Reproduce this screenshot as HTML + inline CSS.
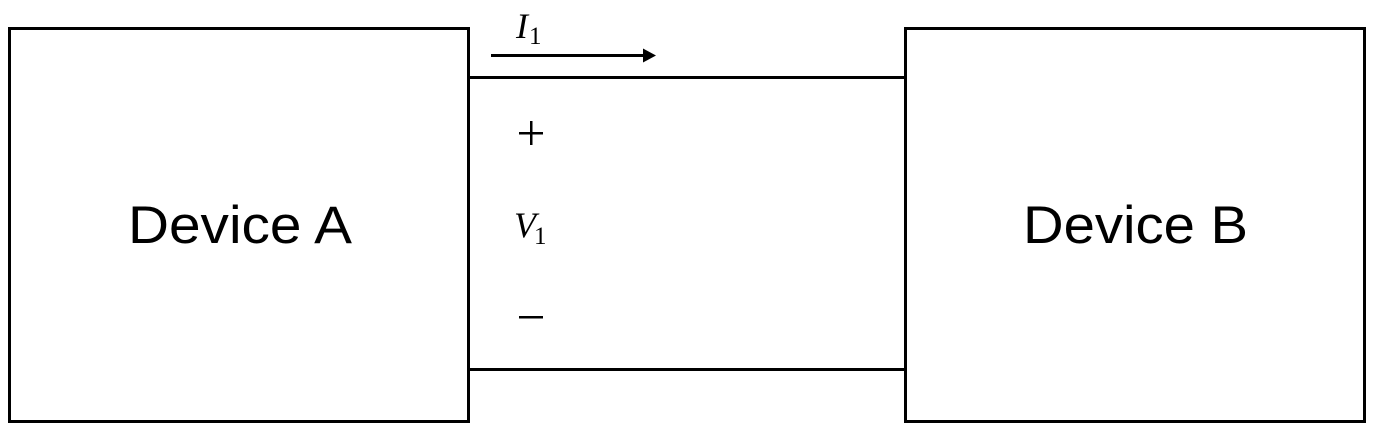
<!DOCTYPE html>
<html>
<head>
<meta charset="utf-8">
<style>
html,body{margin:0;padding:0;background:#fff;width:1380px;height:435px;overflow:hidden}
svg{display:block}
.d{font-family:"Liberation Sans",sans-serif;font-size:53px;fill:#000}
.m{font-family:"Liberation Serif",serif;fill:#000}
</style>
</head>
<body>
<svg width="1380" height="435" viewBox="0 0 1380 435" xmlns="http://www.w3.org/2000/svg">
<rect width="1380" height="435" fill="#fff"/>
<rect x="9.5" y="28.5" width="459" height="393" fill="none" stroke="#000" stroke-width="3"/>
<rect x="905.5" y="28.5" width="459" height="393" fill="none" stroke="#000" stroke-width="3"/>
<rect x="470" y="76" width="435" height="3" fill="#000"/>
<rect x="470" y="368" width="435" height="3" fill="#000"/>
<rect x="491" y="54" width="154" height="3" fill="#000"/>
<polygon points="643,48.5 656,55.5 643,62.500" fill="#000"/>
<text class="d" x="128" y="243" textLength="224" lengthAdjust="spacingAndGlyphs">Device A</text>
<text class="d" x="1023" y="243" textLength="225" lengthAdjust="spacingAndGlyphs">Device B</text>
<text class="m" x="516" y="38" font-size="36" font-style="italic">I</text>
<text class="m" x="529" y="44" font-size="25">1</text>
<text class="m" x="514" y="237" font-size="36" font-style="italic" textLength="22" lengthAdjust="spacingAndGlyphs">V</text>
<text class="m" x="534" y="244" font-size="25">1</text>
<rect x="519" y="132" width="24" height="2.500" fill="#000"/>
<rect x="530" y="121" width="2.500" height="24" fill="#000"/>
<rect x="519" y="316" width="24" height="2.500" fill="#000"/>
</svg>
</body>
</html>
